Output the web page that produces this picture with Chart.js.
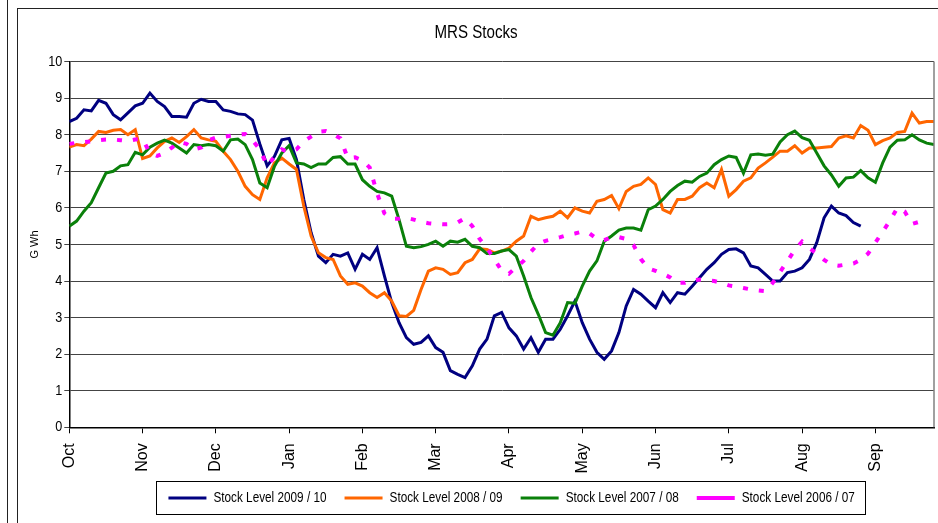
<!DOCTYPE html>
<html>
<head>
<meta charset="utf-8">
<script src="https://cdn.jsdelivr.net/npm/chart.js@4.4.1/dist/chart.umd.min.js"></script>
<style>
  html, body { margin: 0; padding: 0; background: #fff; width: 938px; height: 523px; overflow: hidden; }
  #outerLine { position: absolute; left: 7px; top: 0; height: 523px; border-left: 1px solid #222; }
  #frame { position: absolute; left: 17px; top: 8px; width: 921px; height: 530px; border-top: 1px solid #222; border-left: 1px solid #222; overflow: hidden; }
  #grafico { display: block; }
</style>
</head>
<body>
<div id="outerLine"></div>
<div id="frame"><canvas id="grafico" width="920" height="506"></canvas></div>
<script>
// month labels, one every 10 samples (samples are ~3 days apart)
const meses = ["Oct", "Nov", "Dec", "Jan", "Feb", "Mar", "Apr", "May", "Jun", "Jul", "Aug", "Sep"];
const amostrasPorMes = 10;

const nivel0910 = [
  8.36, 8.45, 8.68, 8.65, 8.94, 8.86, 8.55, 8.41, 8.6, 8.79,
  8.86, 9.14, 8.91, 8.77, 8.5, 8.5, 8.48, 8.86, 8.97, 8.91,
  8.91, 8.68, 8.64, 8.57, 8.55, 8.4, 7.75, 7.15, 7.41, 7.86,
  7.9, 7.32, 6.23, 5.32, 4.68, 4.5, 4.73, 4.68, 4.77, 4.32,
  4.73, 4.59, 4.91, 4.14, 3.41, 2.86, 2.45, 2.27, 2.32, 2.5,
  2.18, 2.05, 1.55, 1.45, 1.36, 1.68, 2.14, 2.41, 3.05, 3.14,
  2.72, 2.5, 2.14, 2.45, 2.05, 2.41, 2.41, 2.68, 3.05, 3.45,
  2.86, 2.41, 2.05, 1.86, 2.09, 2.59, 3.32, 3.77, 3.64, 3.45,
  3.27, 3.68, 3.41, 3.68, 3.64, 3.86, 4.09, 4.32, 4.5, 4.73,
  4.86, 4.88, 4.77, 4.41, 4.36, 4.18, 4.0, 4.0, 4.23, 4.27,
  4.36, 4.59, 5.05, 5.73, 6.05, 5.86, 5.79, 5.6, 5.5, null,
  null, null, null, null, null, null, null, null, null
];

const nivel0809 = [
  7.66, 7.73, 7.7, 7.88, 8.09, 8.06, 8.12, 8.14, 8.0, 8.14,
  7.35, 7.42, 7.64, 7.82, 7.91, 7.79, 7.95, 8.14, 7.91, 7.86,
  7.82, 7.55, 7.32, 7.0, 6.59, 6.36, 6.23, 6.82, 7.23, 7.36,
  7.2, 7.05, 6.05, 5.23, 4.77, 4.64, 4.59, 4.14, 3.91, 3.95,
  3.86, 3.68, 3.55, 3.68, 3.45, 3.05, 3.03, 3.2, 3.77, 4.27,
  4.36, 4.32, 4.18, 4.23, 4.5, 4.59, 4.88, 4.86, 4.77, 4.82,
  4.9, 5.09, 5.23, 5.77, 5.68, 5.73, 5.77, 5.91, 5.73, 6.0,
  5.91, 5.86, 6.18, 6.23, 6.34, 5.98, 6.45, 6.59, 6.64, 6.82,
  6.64, 5.95, 5.86, 6.23, 6.23, 6.32, 6.55, 6.68, 6.55, 7.05,
  6.32, 6.5, 6.73, 6.82, 7.09, 7.23, 7.39, 7.55, 7.55, 7.7,
  7.5, 7.64, 7.64, 7.66, 7.68, 7.91, 7.97, 7.91, 8.25, 8.12,
  7.73, 7.84, 7.91, 8.06, 8.09, 8.59, 8.32, 8.36, 8.36
];

const nivel0708 = [
  5.5, 5.64, 5.91, 6.14, 6.55, 6.95, 7.0, 7.15, 7.18, 7.52,
  7.45, 7.66, 7.77, 7.85, 7.77, 7.64, 7.5, 7.73, 7.7, 7.73,
  7.7, 7.55, 7.86, 7.88, 7.73, 7.32, 6.68, 6.55, 7.14, 7.5,
  7.7, 7.23, 7.2, 7.1, 7.2, 7.2, 7.38, 7.4, 7.2, 7.2,
  6.77, 6.59, 6.45, 6.41, 6.32, 5.68, 4.95, 4.91, 4.94, 5.0,
  5.09, 4.95, 5.09, 5.06, 5.14, 4.95, 4.91, 4.75, 4.75, 4.82,
  4.86, 4.68, 4.14, 3.55, 3.09, 2.59, 2.52, 2.86, 3.41, 3.39,
  3.86, 4.27, 4.55, 5.09, 5.23, 5.39, 5.45, 5.45, 5.39, 5.95,
  6.05, 6.23, 6.45, 6.61, 6.73, 6.7, 6.86, 6.95, 7.18, 7.32,
  7.42, 7.38, 6.95, 7.45, 7.47, 7.44, 7.47, 7.8, 8.0, 8.1,
  7.92, 7.85, 7.5, 7.15, 6.9, 6.59, 6.82, 6.84, 7.02, 6.82,
  6.7, 7.23, 7.66, 7.85, 7.86, 8.0, 7.86, 7.77, 7.73
];

const nivel0607 = [
  7.75, 7.78, 7.8, 7.82, 7.85, 7.87, 7.87, 7.85, 7.83, 7.87,
  7.88, 7.5, 7.42, 7.5, 7.65, 7.8, 7.75, 7.6, 7.65, 7.85,
  7.92, 7.94, 7.97, 8.0, 8.02, 7.85, 7.6, 7.15, 7.4, 7.6,
  7.52, 7.6, 7.82, 7.95, 8.08, 8.1, 8.02, 7.9, 7.36, 7.38,
  7.3, 7.1, 6.4, 5.85, 5.7, 5.7, 5.73, 5.68, 5.62, 5.58,
  5.56, 5.55, 5.56, 5.6, 5.72, 5.5, 5.15, 4.9, 4.6, 4.28,
  4.2, 4.38, 4.55, 4.8, 5.02, 5.1, 5.15, 5.2, 5.26, 5.3,
  5.35, 5.3, 5.15, 5.12, 5.2, 5.2, 5.15, 4.98, 4.6, 4.35,
  4.28, 4.2, 4.1, 3.95, 3.95, 4.02, 4.04, 4.02, 4.0, 3.95,
  3.88, 3.85, 3.81, 3.77, 3.74, 3.72, 3.95, 4.25, 4.55, 4.85,
  5.08, 4.9, 4.75, 4.58, 4.45, 4.42, 4.45, 4.48, 4.58, 4.75,
  5.05, 5.35, 5.65, 6.0, 5.9, 5.56, 5.62, 5.7, null
];

// no narrow font installed: the "Arial Narrow" texts get squeezed to 84% width
const fonteEstreita = "'Arial Narrow', 'Liberation Sans', Arial, sans-serif";
const fonteNormal = "'Liberation Sans', Arial, sans-serif";
const ESTREITO = 0.84;

const canvas = document.getElementById("grafico");
const ctx = canvas.getContext("2d");
const medirOriginal = ctx.measureText.bind(ctx);
const escreverOriginal = ctx.fillText.bind(ctx);
ctx.measureText = function (texto) {
  const m = medirOriginal(texto);
  if (!/Narrow/.test(ctx.font)) return m;
  return {
    width: m.width * ESTREITO,
    actualBoundingBoxAscent: m.actualBoundingBoxAscent,
    actualBoundingBoxDescent: m.actualBoundingBoxDescent,
    actualBoundingBoxLeft: m.actualBoundingBoxLeft * ESTREITO,
    actualBoundingBoxRight: m.actualBoundingBoxRight * ESTREITO,
  };
};
ctx.fillText = function (texto, x, y, maxW) {
  if (/Narrow/.test(ctx.font)) {
    const w = medirOriginal(texto).width * ESTREITO;
    maxW = maxW === undefined ? w : Math.min(maxW, w);
  }
  return maxW === undefined ? escreverOriginal(texto, x, y) : escreverOriginal(texto, x, y, maxW);
};

Chart.defaults.font.family = fonteEstreita;
Chart.defaults.color = "#000";

const indices = nivel0809.map((v, i) => i);
const deslocaLegenda = 10;

// border of the plot area (right side) and box round the legend
const moldura = {
  id: "moldura",
  afterUpdate(grafico) {
    const lg = grafico.legend;
    lg.left += deslocaLegenda;
    lg.right += deslocaLegenda;
    lg.legendHitBoxes.forEach((c) => { c.left += deslocaLegenda; });
  },
  afterDraw(grafico) {
    const ctx = grafico.ctx;
    const a = grafico.chartArea;
    ctx.save();
    ctx.strokeStyle = "#808080";
    ctx.lineWidth = 1.5;
    ctx.beginPath();
    ctx.moveTo(a.right, a.top);
    ctx.lineTo(a.right, a.bottom);
    ctx.stroke();

    const caixas = grafico.legend.legendHitBoxes;
    if (caixas && caixas.length) {
      const primeira = caixas[0];
      const ultima = caixas[caixas.length - 1];
      const x0 = primeira.left - 12;
      const x1 = ultima.left + ultima.width + 11;
      const yc = primeira.top + primeira.height / 2;
      ctx.strokeStyle = "#000";
      ctx.lineWidth = 1;
      ctx.strokeRect(Math.round(x0) + 0.5, Math.round(yc - 16.5) + 0.5, Math.round(x1 - x0), 33);
    }
    ctx.restore();
  },
};

function serie(label, data, cor, ordem, extra) {
  return Object.assign({
    label: label,
    data: data,
    borderColor: cor,
    backgroundColor: cor,
    borderWidth: 3,
    pointRadius: 0,
    tension: 0,
    spanGaps: false,
    order: ordem,
  }, extra || {});
}

const grafico = new Chart(canvas, {
  type: "line",
  data: {
    labels: indices,
    datasets: [
      serie("Stock Level 2009 / 10", nivel0910, "#000080", 3),
      serie("Stock Level 2008 / 09", nivel0809, "#FF6600", 2),
      serie("Stock Level 2007 / 08", nivel0708, "#0A800A", 1),
      serie("Stock Level 2006 / 07", nivel0607, "#FF00FF", 0, { borderWidth: 4, borderDash: [5, 11] }),
    ],
  },
  options: {
    responsive: false,
    animation: false,
    layout: { padding: { left: 0, right: 4, top: 0, bottom: 0 } },
    plugins: {
      title: {
        display: true,
        text: "MRS Stocks",
        font: { size: 18, weight: "normal" },
        color: "#000",
        padding: { top: 13, bottom: 18 },
      },
      legend: {
        position: "bottom",
        fullSize: false,
        labels: {
          usePointStyle: true,
          pointStyle: "line",
          pointStyleWidth: 38,
          padding: 18,
          font: { size: 14 },
          color: "#000",
          sort: (a, b) => a.datasetIndex - b.datasetIndex,
        },
      },
      tooltip: { enabled: false },
    },
    scales: {
      x: {
        type: "linear",
        min: 0,
        max: 118,
        afterFit: (escala) => { escala.height = 45.7; },
        afterBuildTicks: (escala) => {
          escala.ticks = escala.ticks.filter((t) => t.value % amostrasPorMes === 0 && t.value / amostrasPorMes < meses.length);
        },
        ticks: {
          stepSize: amostrasPorMes,
          autoSkip: false,
          minRotation: 90,
          maxRotation: 90,
          padding: 10,
          font: { family: fonteNormal, size: 16 },
          callback: (v) => meses[v / amostrasPorMes],
        },
        grid: { drawOnChartArea: false, drawTicks: true, tickLength: 6, color: "#000" },
        border: { display: true, color: "#000", width: 1.5 },
      },
      y: {
        min: 0,
        max: 10,
        afterFit: (escala) => { escala.width = 51.3; },
        ticks: { stepSize: 1, padding: 2, font: { size: 15 } },
        grid: { color: "#444", lineWidth: 1, tickLength: 5, drawTicks: true },
        border: { display: true, color: "#000", width: 1.5 },
        title: {
          display: true,
          text: "G Wh",
          font: { family: fonteNormal, size: 11 },
          padding: { top: 10, bottom: 0 },
        },
      },
    },
  },
  plugins: [moldura],
});
</script>
</body>
</html>
